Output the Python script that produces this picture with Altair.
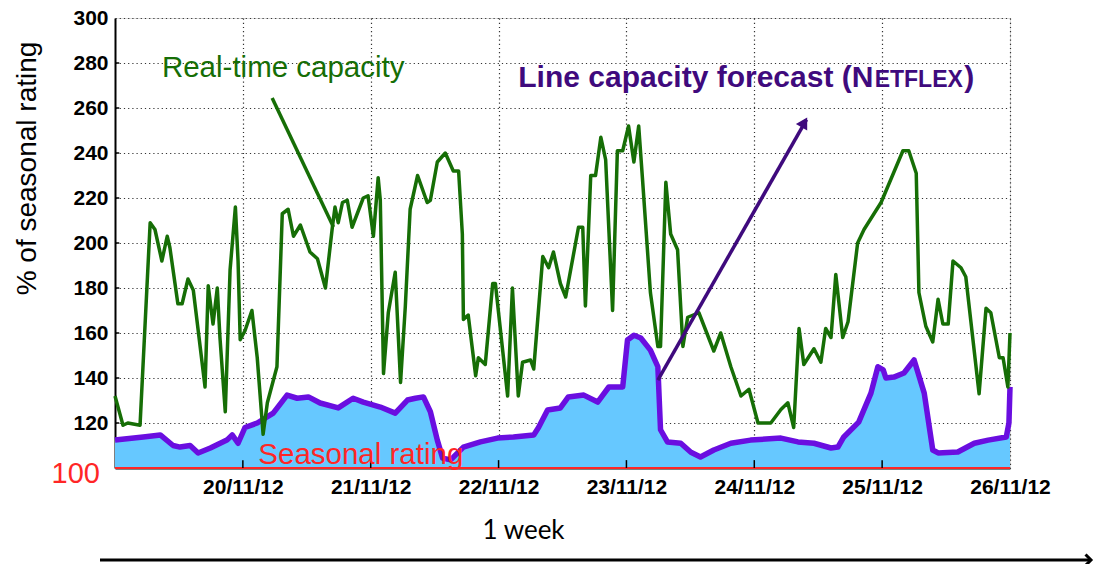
import altair as alt
import pandas as pd

START = pd.Timestamp("2012-11-19 00:00")

# Real-time capacity (hours since 19/11/12 00:00, % of seasonal rating)
green_hours = [0.0, 1.5, 2.4, 4.7, 6.6, 7.5, 8.8, 9.8, 10.3, 11.8,
               12.6, 13.7, 14.7, 16.9, 17.5, 18.4, 19.2, 19.7, 20.7, 21.6,
               22.6, 23.1, 23.5, 24.4, 25.7, 26.7, 27.8, 28.6, 30.4, 31.4,
               32.5, 33.5, 34.8, 36.6, 38.0, 39.5, 40.8, 41.3, 41.9, 42.7,
               43.6, 44.5, 46.6, 47.5, 48.5, 49.4, 49.8, 50.4, 51.3, 52.6,
               53.6, 54.5, 55.4, 56.8, 58.6, 59.2, 60.5, 62.0, 63.5, 64.5,
               65.2, 65.4, 66.3, 67.7, 68.2, 69.5, 70.9, 71.4, 73.7, 74.6,
               75.7, 76.5, 78.0, 78.6, 80.3, 81.4, 82.3, 83.6, 84.6, 87.0,
               87.8, 88.3, 89.3, 90.2, 91.2, 92.1, 93.4, 94.3, 95.3, 96.4,
               97.4, 98.3, 99.0, 100.5, 101.9, 102.4, 103.4, 104.3, 105.6, 106.6,
               107.5, 109.6, 112.4, 113.7, 115.6, 117.5, 119.0, 120.7, 123.1, 125.0,
               126.3, 127.4, 128.4, 129.3, 131.2, 132.5, 133.4, 134.4, 135.3, 136.6,
               137.6, 139.4, 140.6, 143.8, 147.9, 149.0, 150.4, 150.9, 152.2, 153.5,
               154.5, 155.4, 156.4, 157.3, 158.8, 159.7, 162.2, 163.5, 164.4, 166.0,
               166.7, 167.6, 168.0]
green_values = [132, 119, 120, 119, 209, 206, 192, 203, 198, 173,
                173, 184, 179, 136, 181, 164, 180, 158, 125, 188,
                216, 192, 157, 161, 170, 149, 115, 129, 145, 213,
                215, 203, 208, 196, 193, 180, 207, 216, 209, 218,
                219, 207, 220, 221, 203, 229, 219, 142, 169, 187,
                138, 172, 215, 230, 218, 219, 236, 240, 232, 232,
                204, 166, 168, 141, 149, 146, 182, 182, 132, 180,
                132, 147, 148, 144, 194, 189, 196, 182, 176, 207,
                207, 172, 230, 230, 247, 237, 170, 241, 241, 252,
                236, 252, 229, 178, 154, 154, 227, 204, 197, 154,
                167, 169, 152, 160, 145, 132, 135, 120, 120, 126,
                129, 118, 162, 146, 153, 147, 162, 158, 186, 158,
                165, 200, 206, 218, 241, 241, 231, 178, 163, 156,
                175, 164, 164, 192, 189, 185, 133, 171, 169, 149,
                149, 136, 160]

# Line capacity forecast (NETFLEX)
forecast_hours = [0.0, 5.3, 8.5, 10.9, 12.2, 14.1, 15.6, 17.9, 21.0, 22.0,
                  23.1, 24.4, 26.7, 29.7, 32.3, 34.2, 36.3, 38.5, 41.9, 44.7,
                  46.6, 49.8, 52.6, 54.9, 56.4, 57.9, 59.2, 60.5, 61.5, 63.0,
                  65.4, 68.6, 71.8, 74.8, 78.6, 79.5, 81.2, 83.6, 85.1, 88.0,
                  90.6, 92.7, 95.3, 96.2, 97.4, 98.7, 100.5, 101.9, 102.4, 103.7,
                  106.2, 108.1, 109.9, 112.4, 115.6, 119.3, 125.0, 128.2, 131.2, 134.4,
                  135.7, 136.8, 139.6, 141.9, 143.2, 144.2, 144.7, 146.2, 148.1, 150.0,
                  151.9, 153.5, 154.5, 158.2, 161.3, 163.9, 167.3, 167.8, 168.0]
forecast_values = [112.4, 113.8, 114.7, 110, 109.3, 110, 106.7, 108.9, 112.4, 114.7,
                   111, 118, 120, 124.4, 132.4, 131, 131.6, 128.9, 126.7, 131,
                   129.3, 127.1, 124.4, 130.2, 131, 131.6, 125, 112.4, 104.4, 103.6,
                   109.3, 111.6, 113.3, 113.8, 114.7, 118, 125.8, 126.7, 131.6, 132.4,
                   129.3, 136, 136, 156.9, 159, 157.8, 152.4, 145, 117, 111.6,
                   111, 107, 104.9, 108, 111, 112.4, 113.3, 111.6, 111, 108.9,
                   109.3, 113.8, 120.4, 133.3, 145, 143.6, 140, 140.4, 142.2, 148,
                   133.3, 108, 106.7, 107.1, 111, 112.4, 113.8, 120, 136]

DAY_TICKS = [20, 21, 22, 23, 24, 25, 26]
Y_TICKS = [120, 140, 160, 180, 200, 220, 240, 260, 280, 300]
SEASONAL_RATING = 100

GREEN = "#166e06"
PURPLE_LINE = "#6a0ee0"
PURPLE_TEXT = "#3f0a7d"
BLUE_FILL = "#66c8ff"
RED = "#ff2626"
GRID = "#333333"


def to_time(hours):
    return [START + pd.Timedelta(hours=h) for h in hours]


def day(d):
    return alt.DateTime(year=2012, month=11, date=d)


green_df = pd.DataFrame({"time": to_time(green_hours), "value": green_values})
forecast_df = pd.DataFrame({"time": to_time(forecast_hours), "value": forecast_values})
rating_df = pd.DataFrame({"time": to_time([0.0, 168.0]), "value": [SEASONAL_RATING] * 2})

x_enc = alt.X(
    "time:T",
    scale=alt.Scale(domain=[day(19), day(26)]),
    axis=alt.Axis(
        values=[day(d) for d in DAY_TICKS],
        format="%d/%m/%y",
        labelFont="Liberation Sans",
        labelFontSize=21,
        labelFontWeight="bold",
        labelColor="black",
        labelPadding=8,
        labelFlush=False,
        ticks=False,
        grid=True,
        gridDash=[1.2, 3],
        gridColor=GRID,
        gridWidth=1.2,
        gridOpacity=1,
        domainColor="black",
        domainWidth=2,
        title="1 week",
        titleFont="Lato",
        titleFontSize=26,
        titleFontWeight="normal",
        titleColor="black",
        titleX=408,
        titleY=70,
        titleBaseline="alphabetic",
    ),
)
y_enc = alt.Y(
    "value:Q",
    scale=alt.Scale(domain=[100, 300], zero=False, nice=False),
    axis=alt.Axis(
        values=Y_TICKS,
        labelFont="Liberation Sans",
        labelFontSize=21,
        labelFontWeight="bold",
        labelColor="black",
        labelPadding=7,
        ticks=False,
        grid=True,
        gridDash=[1.2, 3],
        gridColor=GRID,
        gridWidth=1.2,
        gridOpacity=1,
        domainColor="black",
        domainWidth=2,
        title="% of seasonal rating",
        titleFont="Liberation Sans",
        titleFontSize=28,
        titleFontWeight="normal",
        titleColor="black",
        titleAngle=270,
        titleX=-80,
        titleY=150,
        titleBaseline="alphabetic",
    ),
)

area = alt.Chart(forecast_df).mark_area(color=BLUE_FILL, opacity=1).encode(
    x=x_enc, y=y_enc, y2=alt.datum(SEASONAL_RATING)
)
forecast_line = alt.Chart(forecast_df).mark_line(
    color=PURPLE_LINE, strokeWidth=5.5, strokeJoin="round"
).encode(x=x_enc, y=y_enc)
rating_line = alt.Chart(rating_df).mark_line(color=RED, strokeWidth=2).encode(x=x_enc, y=y_enc)
green_line = alt.Chart(green_df).mark_line(
    color=GREEN, strokeWidth=3.5, strokeJoin="round"
).encode(x=x_enc, y=y_enc)

# inward tick marks
xt_df = pd.DataFrame({"time": to_time([24.0 * (d - 19) for d in DAY_TICKS[:-1]]),
                      "value": [100] * 6, "value2": [103.5] * 6})
x_ticks = alt.Chart(xt_df).mark_rule(color="black", strokeWidth=1.5).encode(
    x=x_enc, y=y_enc, y2="value2:Q"
)
yt_df = pd.DataFrame({"time": to_time([0.0] * 9), "time2": to_time([0.8] * 9),
                      "value": Y_TICKS[:-1]})
y_ticks = alt.Chart(yt_df).mark_rule(color="black", strokeWidth=1.5).encode(
    x=x_enc, x2="time2:T", y=y_enc
)


# annotation texts
def label(text, hours, value, color, size, weight="normal", **kw):
    df = pd.DataFrame({"time": to_time([hours]), "value": [value], "t": [text]})
    return alt.Chart(df).mark_text(
        color=color, fontSize=size, fontWeight=weight, font="Liberation Sans",
        align=kw.pop("align", "left"), baseline="alphabetic", **kw
    ).encode(x=x_enc, y=y_enc, text="t:N")


t_real = label("Real-time capacity", 8.8, 273.8, GREEN, 29.5)
t_fc1 = label("Line capacity forecast (N", 75.7, 269.3, PURPLE_TEXT, 30, "bold")
t_fc2 = label("ETFLEX", 142.6, 269.3, PURPLE_TEXT, 23, "bold")
t_fc3 = label(")", 159.4, 269.3, PURPLE_TEXT, 30, "bold")
t_season = label("Seasonal rating", 26.9, 101.8, RED, 29.5)
t_100 = label("100", 0.0, 100, RED, 29, align="right", dx=-15, dy=15)

# pointer arrows
ptr_df = pd.DataFrame({
    "time": to_time([29.5, 101.9]), "value": [264.4, 139.1],
    "time2": to_time([41.0, 129.8]), "value2": [207.1, 254.8],
    "c": ["green", "purple"],
})
pointers = alt.Chart(ptr_df).mark_rule(strokeWidth=3.5).encode(
    x=x_enc, y=y_enc, x2="time2:T", y2="value2:Q",
    color=alt.Color("c:N", scale=alt.Scale(domain=["green", "purple"],
                                            range=[GREEN, PURPLE_TEXT]), legend=None),
)
head_df = pd.DataFrame({"time": to_time([129.4]), "value": [253.6]})
head = alt.Chart(head_df).mark_point(
    shape="triangle-up", filled=True, color=PURPLE_TEXT, size=170, angle=30, opacity=1
).encode(x=x_enc, y=y_enc)

# bottom time arrow
time_arrow = alt.Chart(head_df).mark_rule(color="black", strokeWidth=3).encode(
    x=alt.value(-15), x2=alt.value(975), y=alt.value(542)
)
time_head = alt.Chart(head_df).mark_point(
    shape="M -1 -1 L 0 0 L -1 1", filled=False, color="black", strokeWidth=3,
    size=120, opacity=1
).encode(x=alt.value(976), y=alt.value(542))

chart = alt.layer(
    area, rating_line, forecast_line, x_ticks, y_ticks, green_line,
    t_season, t_100, t_real, t_fc1, t_fc2, t_fc3, pointers, head,
    time_arrow, time_head,
).properties(
    width=895, height=450,
    autosize=alt.AutoSizeParams(type="none"),
    padding={"left": 107, "top": 10, "right": 87, "bottom": 96},
).configure_view(stroke=None).configure(background="white")

chart.save("out.html", embed_options={"renderer": "svg", "actions": False})
